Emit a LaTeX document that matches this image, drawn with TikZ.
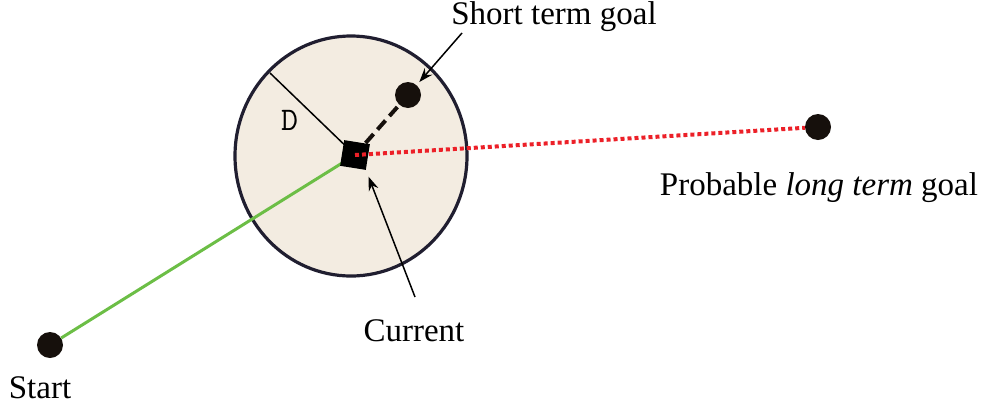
\documentclass[tikz,border=0pt]{standalone}
\usepackage{fontspec}
\setmainfont{Liberation Serif}
\usetikzlibrary{arrows.meta}
\definecolor{rangefill}{RGB}{243,236,225}
\definecolor{rangeline}{RGB}{32,30,48}
\definecolor{pathgreen}{RGB}{108,190,70}
\definecolor{pathred}{RGB}{236,32,40}
\definecolor{dotblack}{RGB}{22,16,12}
\tikzset{
  goal/.style={circle,fill=dotblack,inner sep=0pt,minimum size=26pt},
  label/.style={font=\fontsize{33}{40}\selectfont,inner sep=0pt},
  pointer/.style={line width=1.5pt,-{Stealth[length=14pt,width=10pt]}}
}
\begin{document}
\begin{tikzpicture}[x=1pt,y=-1pt]
\useasboundingbox (0,0) rectangle (990,413);
\draw[line width=3.2pt,draw=rangeline,fill=rangefill] (351,156) ellipse [x radius=116,y radius=120];
\node[goal] (start) at (50,345) {};
\node[goal] (short) at (408,95) {};
\node[goal] (long) at (818,127) {};
\coordinate (rim) at (270,73);
\coordinate (cpos) at (355,155);
\draw[line width=1.5pt] (rim) -- (cpos);
\draw[line width=3pt,pathgreen] (start) -- (cpos);
\draw[line width=4pt,dotblack,dash pattern=on 12pt off 6pt,shorten <=16pt] (cpos) -- (short);
\node[fill=black,inner sep=0pt,minimum size=26pt,rotate=-9] (cur) at (cpos) {};
\draw[line width=4pt,pathred,dash pattern=on 4pt off 3pt] (cur.center) -- (long);
\node[font=\ttfamily\fontsize{33}{40}\selectfont,inner sep=0pt] (dlbl) at (289.5,120) {D};
\node[label] (stlbl) at (554,17) {Short term goal};
\node[label] (ltlbl) at (819,188) {Probable \textit{long term} goal};
\node[label] (stlbl2) at (40,388) {Start};
\node[label] (curlbl) at (414,331) {Current};
\coordinate (stp) at (462,33);
\coordinate (cup) at (415,297);
\draw[pointer,shorten >=4pt] (stp) -- (short);
\draw[pointer,shorten >=7pt] (cup) -- (cur.south east);
\end{tikzpicture}
\end{document}
